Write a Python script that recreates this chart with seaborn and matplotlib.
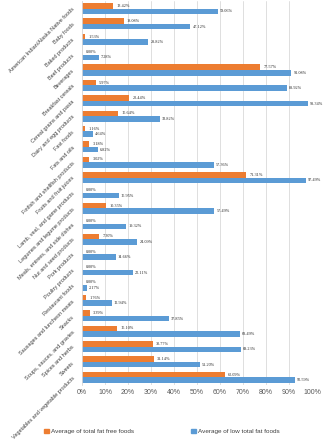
import pandas as pd
import matplotlib.pyplot as plt
import seaborn as sns

categories = [
    "American Indian/Alaska Native foods", "Baby foods", "Baked products",
    "Beef products", "Beverages", "Breakfast cereals", "Cereal grains and pasta",
    "Dairy and egg products", "Fast foods", "Fats and oils",
    "Finfish and shellfish products", "Fruits and fruit juices",
    "Lamb, veal, and game products", "Legumes and legume products",
    "Meals, entrees, and side dishes", "Nut and seed products", "Pork products",
    "Poultry products", "Restaurant foods", "Sausages and luncheon meats",
    "Snacks", "Soups, sauces, and gravies", "Spices and herbs", "Sweets",
    "Vegetables and vegetable products",
]
fat_free = [13.42, 18.08, 1.53, 0.00, 77.57, 5.97, 20.44, 15.64, 1.16, 3.18,
            3.02, 71.31, 0.00, 10.35, 0.00, 7.30, 0.00, 0.00, 0.00, 1.76,
            3.39, 15.10, 30.77, 31.14, 62.09]
low_fat = [59.06, 47.12, 28.82, 7.28, 91.08, 88.92, 98.34, 33.82, 4.64, 6.82,
           57.36, 97.49, 15.95, 57.49, 19.32, 24.09, 14.66, 22.11, 2.17, 12.94,
           37.85, 68.49, 69.23, 51.20, 92.59]
series = ["Average of total fat free foods", "Average of low total fat foods"]

df = pd.DataFrame({
    "Category": categories * 2,
    "Value": fat_free + low_fat,
    "Series": [series[0]] * len(categories) + [series[1]] * len(categories),
})

colors = ["#ED7D31", "#5B9BD5"]

sns.set_style("white")
plt.rcParams["font.family"] = ["Liberation Sans", "DejaVu Sans"]

fig = plt.figure(figsize=(3.24, 4.40), dpi=100)
ax = fig.add_axes([0.253, 0.125, 0.71, 0.873])

sns.barplot(data=df, x="Value", y="Category", hue="Series", hue_order=series,
            palette=colors, width=0.72, ax=ax, legend=False, saturation=1,
            edgecolor="none")

# data labels
for cont, pad in zip(ax.containers, [2.5, 1.5]):
    ax.bar_label(cont, fmt="%.2f%%", padding=pad, fontsize=3.1,
                 family="Liberation Serif", color="#262626")

ax.set_xlim(0, 100)
ax.set_xticks(range(0, 101, 10))
ax.set_xticklabels([f"{t}%" for t in range(0, 101, 10)], fontsize=5, color="#595959")
ax.xaxis.grid(True, color="#D9D9D9", linewidth=0.6)
ax.set_axisbelow(True)
ax.set_xlabel("")
ax.set_ylabel("")
ax.set_yticks(range(len(categories)))
ax.set_yticklabels(categories, fontsize=4.0, color="#404040",
                   rotation=45, ha="right", rotation_mode="anchor", va="center")
ax.tick_params(axis="y", length=0, pad=6)
ax.tick_params(axis="x", length=0, pad=3)
for s in ["top", "right", "bottom"]:
    ax.spines[s].set_visible(False)
ax.spines["left"].set_color("#D9D9D9")
ax.spines["left"].set_linewidth(0.6)

handles = [plt.Rectangle((0, 0), 1, 1, color=c) for c in colors]
fig.legend(handles, series, loc="lower center", bbox_to_anchor=(0.5, 0.0),
           ncol=2, frameon=False, fontsize=4.6, handlelength=0.7,
           handleheight=0.7, handletextpad=0.3, columnspacing=9,
           labelcolor="#404040")

fig.savefig("out.png", dpi=100)
